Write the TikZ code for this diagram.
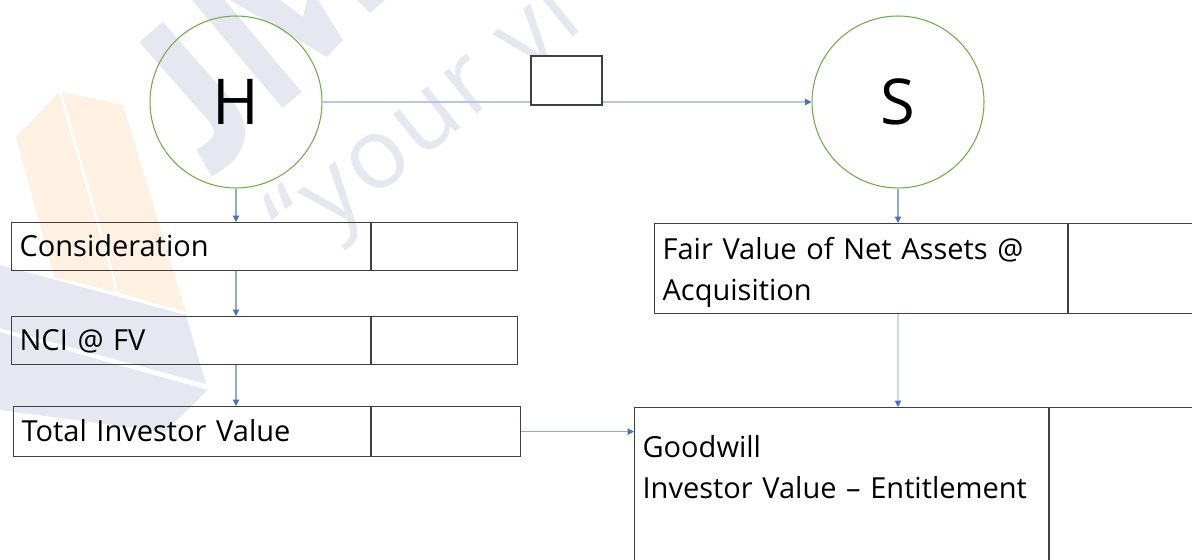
\documentclass[tikz,border=0pt]{standalone}
\usepackage{fontspec}
\setmainfont{Open Sans}
\newfontfamily\mottofont[LetterSpace=4]{Open Sans}
\usepackage{tikz}
\usetikzlibrary{arrows.meta,positioning}
\usepackage{xcolor}
\definecolor{boxline}{HTML}{404040}
\definecolor{ringgreen}{HTML}{70AD47}
\definecolor{linkblue}{HTML}{4472C4}
\definecolor{linkmid}{HTML}{8FAADC}
\definecolor{linklight}{HTML}{B4C7E7}
\definecolor{linkpale}{HTML}{CDD8EF}
\definecolor{wmlilac}{HTML}{E6E7F0}
\definecolor{wmpeach}{HTML}{FEF1E2}

\begin{document}
\begin{tikzpicture}[x=0.02cm, y=-0.02cm,
  ring/.style={circle, draw=ringgreen, line width=0.6pt, minimum size=3.44cm, inner sep=0pt, font=\fontsize{36}{40}\selectfont},
  cell/.style={rectangle, draw=boxline, line width=0.7pt, inner sep=0pt},
  item/.style={cell, anchor=north west, align=left, inner xsep=0.16cm, text height=11.8pt, text depth=0pt, font=\fontsize{16.5}{23.2}\selectfont},
  note/.style={cell, anchor=north west, align=left, inner xsep=0.16cm, font=\fontsize{16.5}{23.2}\selectfont},
  link/.style={draw=linkmid, line width=0.6pt, -{Triangle[length=3.6pt,width=3.6pt,color=linkblue]}}]

\useasboundingbox (0,0) rectangle (1192,560);

  % Watermark in the background
\begin{scope}
\clip (0,0) rectangle (1192,560);
\fill[wmpeach] (16,137) -- (59,92) -- (116,292) -- (54,277) -- cycle;
\fill[wmpeach] (62,92) -- (123,105) -- (186,312) -- (119,293) -- cycle;
\fill[wmlilac] (0,265) -- (186,315) -- (206,384) -- (0,328) -- cycle;
\fill[wmlilac] (0,332) -- (208,390) -- (165,432) -- (0,410) -- cycle;
\draw[wmlilac, line width=0.62cm] (151,32) -- (218,108) .. controls (240,133) and (228,150) .. (204,163);
\draw[wmlilac, line width=0.5cm] (200,-10) -- (292,100);
\fill[wmlilac] (230,0) -- (280,0) -- (303,17) -- (307,0) -- (318,0) -- (343,40) -- (327,57) -- cycle;
\fill[wmlilac] (357,0) -- (385,0) -- (370,13) -- cycle;
\node[text=wmlilac, anchor=base west, rotate=39, font=\mottofont\fontsize{56}{56}\selectfont, inner sep=0pt] (motto) at (300,258) {“your vi};
\end{scope}

  % Define the two companies
\node[ring] (H) at (236,102) {H};
\node[ring] (S) at (898,102) {S};

  % Define the rows on the left
\node[item, minimum width=7.18cm, minimum height=0.96cm, text width=6.86cm] (cons) at (11,222) {Consideration};
\node[cell, minimum width=2.92cm, minimum height=0.96cm, right=0pt of cons] (consv) {};
\node[item, minimum width=7.18cm, minimum height=0.96cm, text width=6.86cm] (nci) at (11,316) {NCI @ FV};
\node[cell, minimum width=2.92cm, minimum height=0.96cm, right=0pt of nci] (nciv) {};
\node[item, minimum width=7.14cm, minimum height=1.0cm, text width=6.82cm] (total) at (13,406) {Total Investor Value};
\node[cell, minimum width=2.98cm, minimum height=1.0cm, right=0pt of total] (totalv) {};

  % Define the rows on the right
\node[note, minimum width=8.26cm, minimum height=1.8cm, text width=7.94cm, inner ysep=0pt, text height=17pt] (fair) at (654,223) {Fair Value of Net Assets @\\Acquisition};
\node[cell, minimum width=4cm, minimum height=1.8cm, right=0pt of fair] (fairv) {};
\node[note, minimum width=8.28cm, text width=7.96cm, inner ysep=0.56cm, text depth=2.6cm] (gw) at (634,407) {Goodwill\\Investor Value -- Entitlement};
\node[cell, anchor=north west, minimum width=4cm, minimum height=4.4cm] (gwv) at (gw.north east) {};

  % Draw arrows between nodes
\draw[link, draw=linklight] (H) -- (S);
\node[cell, fill=white, minimum width=1.42cm, minimum height=0.98cm] (gap) at (566.5,80.5) {};
\draw[link] (H) -- (H |- cons.north);
\draw[link] (H |- cons.south) -- (H |- nci.north);
\draw[link] (H |- nci.south) -- (H |- total.north);
\draw[link] (S) -- (S |- fair.north);
\draw[link, draw=linkpale] (S |- fair.south) -- (S |- gw.north);
\draw[link] (totalv) -- (totalv -| gw.west);

\end{tikzpicture}
\end{document}
